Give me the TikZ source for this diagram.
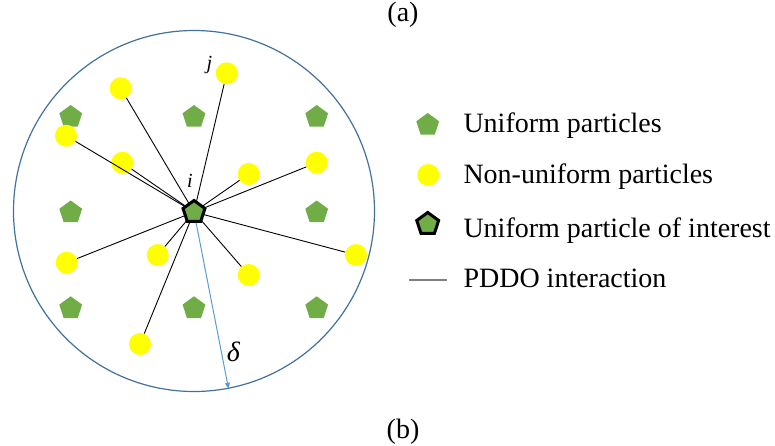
\documentclass[tikz,border=0pt]{standalone}
\usepackage{fontspec}
\setmainfont{Liberation Serif}
\usetikzlibrary{shapes.geometric,arrows.meta}
\definecolor{pgreen}{HTML}{70AD47}
\definecolor{pyellow}{HTML}{FFFF00}
\definecolor{rimblue}{HTML}{41719C}
\definecolor{arrowblue}{HTML}{5B9BD5}
\definecolor{legendgray}{HTML}{7F7F7F}
\begin{document}
\begin{tikzpicture}[x=1pt,y=-1pt,
  unif/.style={regular polygon, regular polygon sides=5, fill=pgreen, draw=none, inner sep=0pt, minimum size=24pt},
  focus/.style={regular polygon, regular polygon sides=5, fill=pgreen, draw=black, line width=3pt, inner sep=0pt, minimum size=23pt},
  nonunif/.style={circle, fill=pyellow, draw=none, inner sep=0pt, minimum size=22pt},
  bond/.style={black, line width=0.9pt},
  lbl/.style={font=\fontsize{28}{30}\selectfont, anchor=base west, inner sep=0pt},
  captext/.style={font=\fontsize{28}{30}\selectfont, inner sep=0pt},
  ital/.style={font=\fontsize{20}{22}\selectfont\itshape, inner sep=0pt},
]
\useasboundingbox (0,0) rectangle (775,445);

% horizon
\node[circle, draw=rimblue, line width=1.2pt, inner sep=0pt, minimum size=361pt] (hood) at (194,211) {};

% uniform particles
\node[unif] (u1) at (70.7,117) {};
\node[unif] (u2) at (194,117) {};
\node[unif] (u3) at (316.7,117) {};
\node[unif] (u4) at (70.7,212.5) {};
\node[unif] (u5) at (316.7,212.5) {};
\node[unif] (u6) at (70.7,308.3) {};
\node[unif] (u7) at (194,308.3) {};
\node[unif] (u8) at (316.7,308.3) {};

% non-uniform particles
\node[nonunif] (y1) at (226.7,73.3) {};
\node[nonunif] (y2) at (120.7,88.3) {};
\node[nonunif] (y3) at (66,135.7) {};
\node[nonunif] (y4) at (122.3,162.7) {};
\node[nonunif] (y5) at (248.7,174) {};
\node[nonunif] (y6) at (316.7,162.7) {};
\node[nonunif] (y7) at (66.7,262.7) {};
\node[nonunif] (y8) at (157.7,255) {};
\node[nonunif] (y9) at (248.7,275) {};
\node[nonunif] (y10) at (356,255) {};
\node[nonunif] (y11) at (140,344) {};

% interactions
\coordinate (c0) at (194,212);
\foreach \k in {1,...,11} \draw[bond] (c0) -- (y\k);

% particle of interest
\node[focus] (c) at (c0) {};

% horizon radius
\draw[arrowblue, line width=1pt, -{Triangle[length=6pt,width=5pt]}] (c) -- (hood.-79.6);

% labels
\node[ital] (ilab) at (190,180.5) {i};
\node[ital] (jlab) at (209.5,65.5) {j};
\node[font=\fontsize{28}{30}\selectfont\itshape, inner sep=0pt] (dlab) at (233.3,351.7) {δ};

% legend
\node[unif] (l1) at (427.7,125) {};
\node[nonunif] (l2) at (428.3,175) {};
\node[focus] (l3) at (427.7,224) {};
\coordinate (la) at (409,280);
\coordinate (lb) at (446.5,280);
\draw[legendgray, line width=1.5pt] (la) -- (lb);
\node[lbl] (t1) at (463.3,132.3) {Uniform particles};
\node[lbl] (t2) at (463.3,183.3) {Non-uniform particles};
\node[lbl] (t3) at (463.3,237.7) {Uniform particle of interest};
\node[lbl] (t4) at (463.3,287.7) {PDDO interaction};

% captions
\node[captext] (capa) at (403,14.5) {(a)};
\node[captext] (capb) at (403,432) {(b)};
\end{tikzpicture}
\end{document}
